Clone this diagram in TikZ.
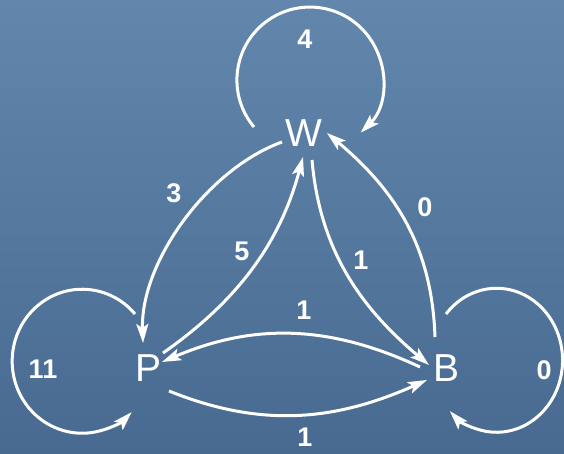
\documentclass[tikz,border=0pt]{standalone}
\usepackage{fontspec}
\setmainfont{Liberation Sans}
\usepackage{tikz}
\usetikzlibrary{arrows.meta,calc}

\definecolor{slidetop}{RGB}{98,134,172}
\definecolor{slidebot}{RGB}{72,106,145}

\begin{document}
\begin{tikzpicture}[
    x=1pt, y=1pt,
    state/.style={circle, minimum size=44pt, inner sep=0pt, text=white, font=\fontsize{39}{39}\selectfont},
    weight/.style={text=white, inner sep=0pt, font=\fontsize{27}{27}\selectfont\bfseries},
    edge/.style={draw=white, line width=3pt, -{Stealth[length=19pt, width=12pt, inset=4pt]}}
]
    \shade[top color=slidetop, bottom color=slidebot] (0,0) rectangle (564,454);
    \useasboundingbox (0,0) rectangle (564,454);

    \node[state] (W) at (304,321) {W};
    \node[state] (P) at (149,86) {P};
    \node[state] (B) at (446,86) {B};

    % self loops
    \draw[edge] ($(W)+(-50,6)$) arc[start angle=220, end angle=-46, radius=73pt];
    \draw[edge] ($(P)+(-14,54)$) arc[start angle=41, end angle=315, x radius=70pt, y radius=72pt];
    \draw[edge] ($(B)+(0,54)$) arc[start angle=140, end angle=-135, x radius=66pt, y radius=72pt];

    % transitions
    \draw[edge] ($(W)+(-22,-9)$) .. controls +(200:80) and +(92:80) .. ($(P)+(-6,25)$);
    \draw[edge] ($(P)+(14,15)$) .. controls +(35:90) and +(255:90) .. ($(W)+(-1,-24)$);
    \draw[edge] ($(W)+(8,-27)$) .. controls +(275:90) and +(140:90) .. ($(B)+(-17,3)$);
    \draw[edge] ($(B)+(-11,31)$) .. controls +(92:90) and +(320:90) .. ($(W)+(23,0)$);
    \draw[edge] ($(B)+(-26,1)$) .. controls +(155:100) and +(23:100) .. ($(P)+(13,6)$);
    \draw[edge] ($(P)+(20,-23)$) .. controls +(338:100) and +(204:100) .. ($(B)+(-19,-12)$);

    \node[weight] (wWW) at (305,415) {4};
    \node[weight] (wWP) at (174,261) {3};
    \node[weight] (wBW) at (425,247) {0};
    \node[weight] (wPW) at (242,203) {5};
    \node[weight] (wWB) at (361,194) {1};
    \node[weight] (wBP) at (304,144) {1};
    \node[weight] (wPP) at (43,85) {11};
    \node[weight] (wBB) at (544,84) {0};
    \node[weight] (wPB) at (305,17) {1};
\end{tikzpicture}
\end{document}
